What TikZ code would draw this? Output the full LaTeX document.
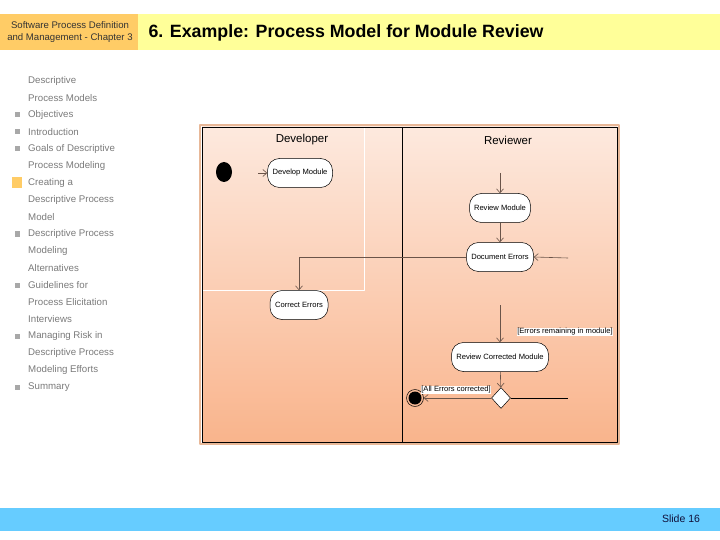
\documentclass[tikz,border=0pt]{standalone}
\usepackage{fontspec}
\setmainfont{Liberation Sans}
\usetikzlibrary{arrows.meta, calc, shapes.geometric}
\definecolor{hdrorange}{HTML}{FFCC66}
\definecolor{hdryellow}{HTML}{FFFF99}
\definecolor{footblue}{HTML}{66CCFF}
\definecolor{navy}{HTML}{10103A}
\definecolor{sidegray}{HTML}{7A7A7A}
\definecolor{bulgray}{HTML}{A8A8A8}
\definecolor{peachtop}{HTML}{FDE9DE}
\definecolor{peachbot}{HTML}{F9B48C}
\definecolor{peachrim}{HTML}{E8B898}
\definecolor{flowline}{HTML}{6A5449}

\begin{document}
\begin{tikzpicture}[x=1pt, y=-1pt, line join=round,
    side/.style={anchor=west, inner sep=0pt, text=sidegray, font=\fontsize{9.7}{10}\selectfont},
    lane/.style={font=\fontsize{11.5}{12}\selectfont},
    act/.style={draw=black, fill=white, rounded corners=12pt, minimum height=29pt,
                inner xsep=2pt, line width=0.5pt, font=\fontsize{7.6}{8}\selectfont},
    guard/.style={fill=white, inner sep=0.6pt, font=\fontsize{7.6}{8}\selectfont},
    ar/.style={-{Straight Barb[length=4pt, width=7pt]}, line width=0.6pt, flowline}]
  \useasboundingbox (0,0) rectangle (720,540);
  % slide header and footer
  \fill[hdrorange] (0,14) rectangle (138,50);
  \fill[hdryellow] (138,14) rectangle (720,50);
  \node[align=center, font=\fontsize{9.6}{11.5}\selectfont, text=black!80] (chap) at (70,32)
    {Software Process Definition\\and Management - Chapter 3};
  \node[anchor=west, font=\fontsize{17.8}{20}\selectfont\bfseries] (title) at (145,33)
    {6. Example: Process Model for Module Review};
  \fill[footblue] (0,508) rectangle (720,531);
  \node[text=navy, font=\fontsize{10.5}{12}\selectfont] (slide) at (681,519) {Slide 16};
  % outline on the left
  \foreach \t [count=\i from 0] in {Descriptive, Process Models, Objectives, Introduction,
      Goals of Descriptive, Process Modeling, Creating a, Descriptive Process, Model,
      Descriptive Process, Modeling, Alternatives, Guidelines for, Process Elicitation,
      Interviews, Managing Risk in, Descriptive Process, Modeling Efforts, Summary}
    \node[side] (s\i) at (28,81+17*\i) {\t};
  \foreach \i in {2,3,4,9,12,15,18}
    \fill[bulgray] ($(s\i.west)+(-13,-2.5)$) rectangle +(5,5);
  \fill[hdrorange] ($(s6.west)+(-16,-5.5)$) rectangle +(10,11);
  % activity diagram
  \draw[peachrim, line width=1.2pt] (200,125) rectangle (619,444);
  \shade[top color=peachtop, bottom color=peachbot] (202,127) rectangle (617,442);
  \draw[white, line width=0.8pt] (202,290) -| (364,127);
  \draw[black, line width=0.8pt] (202,127) rectangle (617,442);
  \draw[black, line width=0.8pt] (402,127) -- (402,442);
  \node[lane] (dev) at (302,140) {Developer};
  \node[lane] (rev) at (508,140) {Reviewer};
  \node[ellipse, fill=black, minimum width=16pt, minimum height=20pt, inner sep=0pt] (start) at (224,172) {};
  \node[act, minimum width=65pt] (dm) at (300,173) {Develop Module};
  \node[act, minimum width=61pt] (rm) at (500,208) {Review Module};
  \node[act, minimum width=67pt] (de) at (500,257) {Document Errors};
  \node[act, minimum width=58pt] (ce) at (299,305) {Correct Errors};
  \node[act, minimum width=97pt] (rc) at (500,357) {Review Corrected Module};
  \node[diamond, draw=black, fill=white, line width=0.5pt, minimum width=19pt,
        minimum height=21pt, inner sep=0pt] (dec) at (501,398) {};
  \node[circle, draw=black, line width=0.5pt, minimum size=17pt, inner sep=0pt] (fin) at (415,398) {};
  \fill[black] (fin.center) circle (6.5pt);
  \coordinate (dmin) at (258,173);
  \coordinate (rmin) at (500,173);
  \coordinate (dein) at (568,258);
  \coordinate (rcin) at (500,305);
  \coordinate (decout) at (568,398);
  \draw[ar] (dmin) -- (dm);
  \draw[ar] (rmin) -- (rm);
  \draw[ar] (rm) -- (de);
  \draw[ar] (dein) -- (de.east);
  \draw[ar] (de.west) -| (ce.north);
  \draw[ar] (rcin) -- (rc);
  \draw[ar] (rc) -- (dec);
  \draw[ar] (dec) -- (fin);
  \draw[line width=0.6pt, black] (dec) -- (decout);
  \node[guard] (gall) at (456,390) {[All Errors corrected]};
  \node[guard] (grem) at (565,332) {[Errors remaining in module]};
\end{tikzpicture}
\end{document}
